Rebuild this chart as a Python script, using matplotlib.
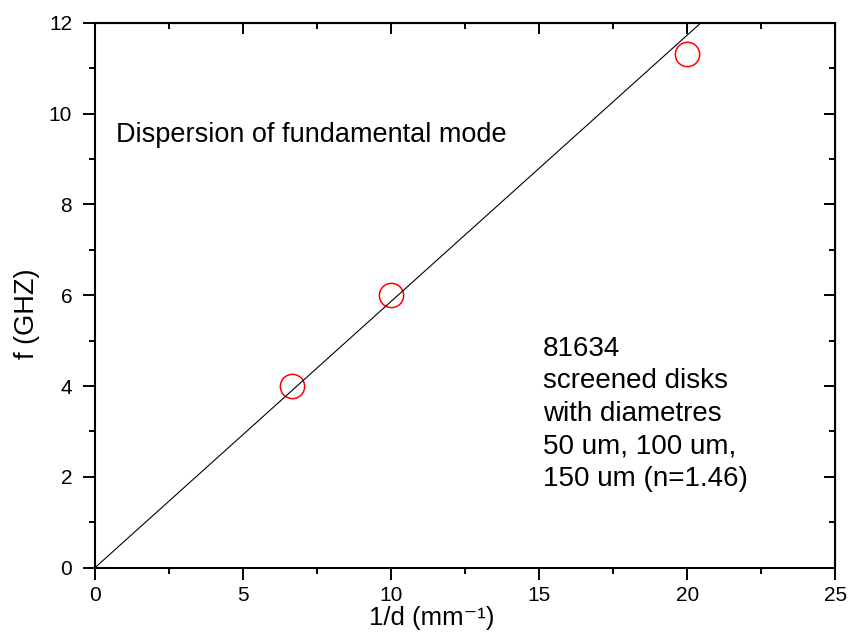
import matplotlib
matplotlib.use("Agg")
import matplotlib.pyplot as plt
from matplotlib.ticker import MultipleLocator

plt.rcParams["font.family"] = ["Liberation Sans", "DejaVu Sans"]

# measured points: inverse disk diameter vs frequency
inv_d = [6.67, 10.0, 20.0]
freq = [4.0, 6.0, 11.32]

# straight fit line through the origin (end point read where it meets the top)
fit_x = [0.0, 20.46]
fit_y = [0.0, 12.0]

x_ticks = [0, 5, 10, 15, 20, 25]
y_ticks = [0, 2, 4, 6, 8, 10, 12]

title_text = "Dispersion of fundamental mode"
note_text = "81634\nscreened disks\nwith diametres\n50 um, 100 um,\n150 um (n=1.46)"

fig = plt.figure(figsize=(8.48, 6.35), dpi=100)
ax = fig.add_axes([0.112, 0.106, 0.873, 0.858])

ax.plot(inv_d, freq, linestyle="none", marker="o", markersize=17.5,
        markerfacecolor="none", markeredgecolor="red", markeredgewidth=1.1,
        zorder=2)
ax.plot(fit_x, fit_y, color="black", linewidth=0.8, zorder=3)

ax.set_xlim(0, 25)
ax.set_ylim(0, 12)
ax.set_xticks(x_ticks)
ax.set_yticks(y_ticks)
ax.xaxis.set_minor_locator(MultipleLocator(2.5))
ax.yaxis.set_minor_locator(MultipleLocator(1))

for sp in ax.spines.values():
    sp.set_linewidth(1.5)

ax.tick_params(which="major", direction="out", length=8.4, width=1.4,
               labelsize=15, pad=5)
ax.tick_params(which="minor", direction="out", length=4.2, width=1.4)
ax.tick_params(axis="y", which="major", pad=8)

# mirrored ticks on top and right point inwards
top = ax.secondary_xaxis("top")
top.set_xticks(x_ticks)
top.xaxis.set_minor_locator(MultipleLocator(2.5))
top.tick_params(which="major", direction="in", length=7.7, width=1.4,
                labeltop=False)
top.tick_params(which="minor", direction="in", length=4.3, width=1.4)
right = ax.secondary_yaxis("right")
right.set_yticks(y_ticks)
right.yaxis.set_minor_locator(MultipleLocator(1))
right.tick_params(which="major", direction="in", length=7.7, width=1.4,
                  labelright=False)
right.tick_params(which="minor", direction="in", length=4.3, width=1.4)

ax.set_xlabel("1/d (mm\u207b\u00b9)", fontsize=18.5)
ax.set_ylabel("f (GHZ)", fontsize=19.5)
ax.xaxis.set_label_coords(0.455, -0.071)
ax.yaxis.set_label_coords(-0.074, 0.466)

ax.text(0.7, 9.38, title_text, fontsize=19.5, va="baseline", ha="left")
ax.text(15.13, 1.806, note_text, fontsize=20, va="baseline", ha="left",
        linespacing=1.32)

fig.savefig("out.png", dpi=100)
